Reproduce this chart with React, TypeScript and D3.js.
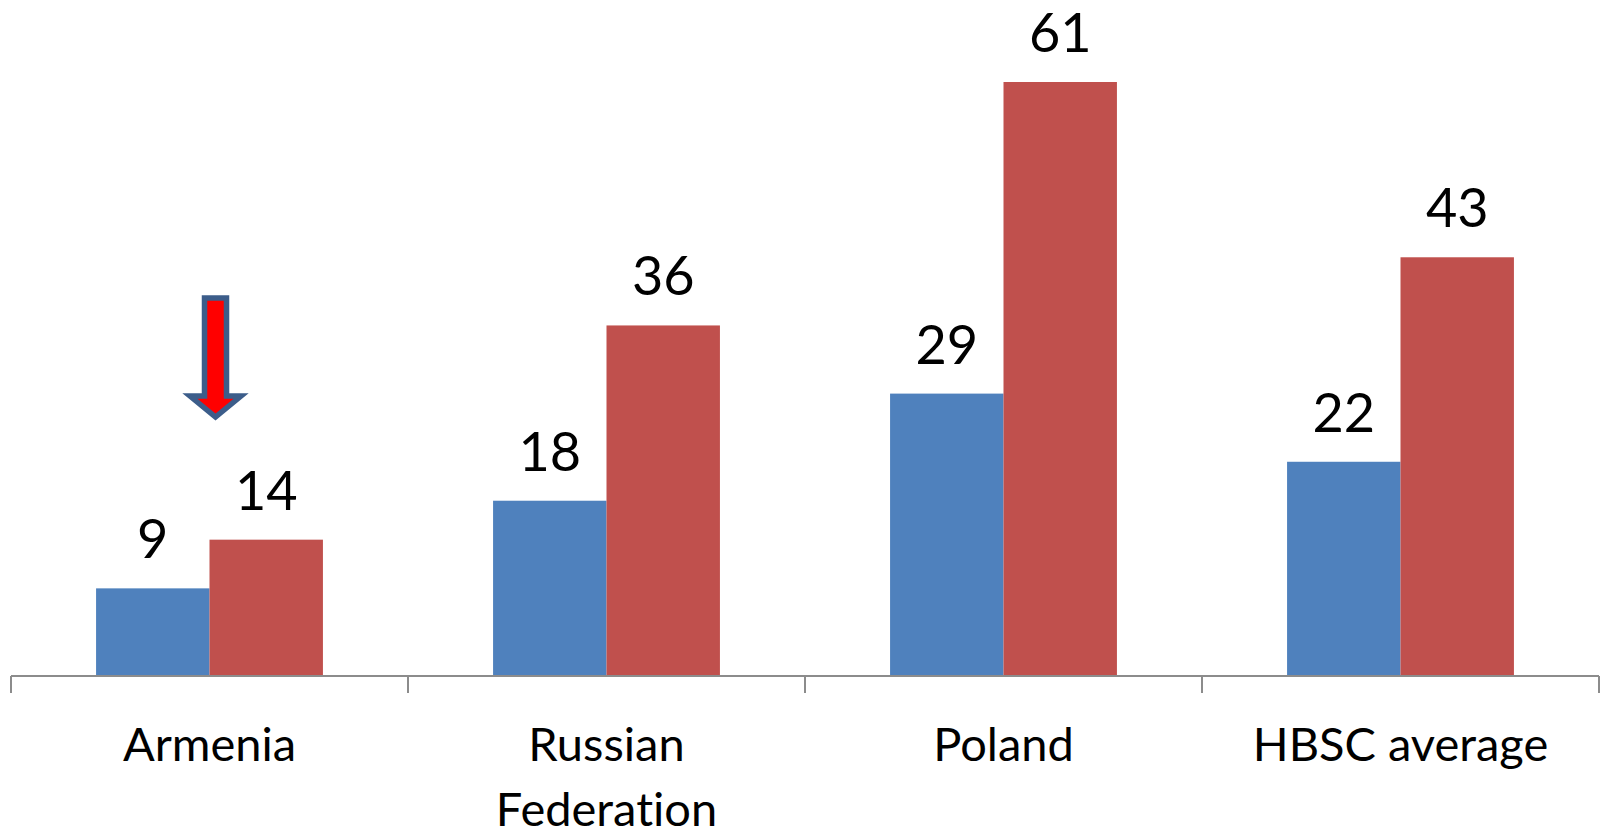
import React from "react";
import * as d3 from "d3";

const categories: string[][] = [["Armenia"], ["Russian", "Federation"], ["Poland"], ["HBSC average"]];
const seriesBlue: number[] = [9, 18, 29, 22];
const seriesRed: number[] = [14, 36, 61, 43];
const seriesNames = ["blue", "red"];
const seriesColors = ["#4F81BD", "#C0504D"];

const W = 1600;
const H = 829;
const AXIS_Y = 676;
const FONT = "Lato, 'Open Sans', sans-serif";

export default function App() {
  const keys = categories.map((c) => c.join(" "));
  const x = d3.scaleBand<string>().domain(keys).range([11, 1599]).padding(0);
  const x1 = d3
    .scaleBand<string>()
    .domain(seriesNames)
    .range([0, x.bandwidth()])
    .paddingInner(0)
    .paddingOuter(0.75);
  const y = d3.scaleLinear().domain([0, 61]).range([AXIS_Y, 82]);
  const data = [seriesBlue, seriesRed];

  const tickXs = [...keys.map((k) => x(k) as number), 1599];

  // arrow annotation above Armenia
  const ax = (x(keys[0]) as number) + x.bandwidth() / 2 + 6;
  const arrowPts: [number, number][] = [
    [ax - 11, 298],
    [ax + 11, 298],
    [ax + 11, 396],
    [ax + 25.5, 396],
    [ax, 417],
    [ax - 25.5, 396],
    [ax - 11, 396],
  ];

  return (
    <svg
      width={W}
      height={H}
      style={{ position: "absolute", left: 0, top: 0, background: "#fff", fontVariantLigatures: "none" }}
    >
      {data.map((vals, si) =>
        vals.map((v, i) => (
          <rect
            key={`b${si}-${i}`}
            x={(x(keys[i]) as number) + (x1(seriesNames[si]) as number)}
            y={y(v)}
            width={x1.bandwidth()}
            height={AXIS_Y - y(v)}
            fill={seriesColors[si]}
          />
        ))
      )}
      {data.map((vals, si) =>
        vals.map((v, i) => (
          <text
            key={`l${si}-${i}`}
            x={(x(keys[i]) as number) + (x1(seriesNames[si]) as number) + x1.bandwidth() / 2}
            y={y(v) - 30}
            textAnchor="middle"
            fontFamily={FONT}
            fontSize={54}
            fill="#000"
          >
            {v}
          </text>
        ))
      )}
      <line x1={11} x2={1599} y1={AXIS_Y} y2={AXIS_Y} stroke="#8C8C8C" strokeWidth={2} />
      {tickXs.map((tx, i) => (
        <line key={`t${i}`} x1={tx} x2={tx} y1={AXIS_Y} y2={AXIS_Y + 17} stroke="#8C8C8C" strokeWidth={2} />
      ))}
      {categories.map((lines, i) =>
        lines.map((ln, j) => (
          <text
            key={`c${i}-${j}`}
            x={(x(keys[i]) as number) + x.bandwidth() / 2}
            y={761 + j * 65}
            textAnchor="middle"
            fontFamily={FONT}
            fontSize={47}
            fill="#000"
            style={{ fontVariantLigatures: "none", fontFeatureSettings: "'liga' 0, 'clig' 0" }}
          >
            {ln}
          </text>
        ))
      )}
      <polygon
        points={arrowPts.map((p) => p.join(",")).join(" ")}
        fill="#FF0000"
        stroke="#3C5D8A"
        strokeWidth={5.5}
        strokeLinejoin="miter"
      />
    </svg>
  );
}
